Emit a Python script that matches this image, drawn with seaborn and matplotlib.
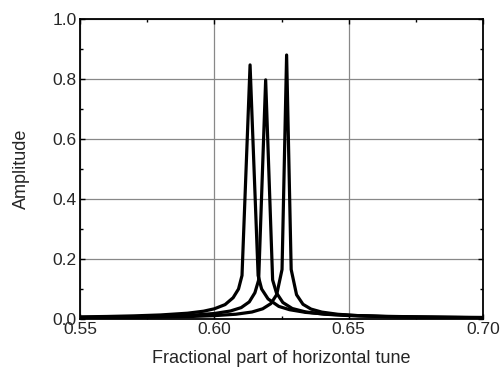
import matplotlib
matplotlib.use("Agg")
import matplotlib.pyplot as plt
from matplotlib.ticker import MultipleLocator
import seaborn as sns
import pandas as pd

# --- data ---
x1 = [0.550, 0.560, 0.570, 0.580, 0.590, 0.596, 0.600, 0.604, 0.607, 0.6090, 0.6103, 0.6133,
      0.6163, 0.6176, 0.620, 0.624, 0.628, 0.634, 0.642, 0.652, 0.662, 0.674, 0.686, 0.700]
y1 = [0.0071, 0.0084, 0.0104, 0.0135, 0.0193, 0.026, 0.034, 0.048, 0.071, 0.10, 0.145, 0.847,
      0.145, 0.10, 0.067, 0.042, 0.031, 0.022, 0.016, 0.0116, 0.0092, 0.0074, 0.0062, 0.0052]

x2 = [0.550, 0.565, 0.580, 0.592, 0.600, 0.606, 0.610, 0.613, 0.6151, 0.6165, 0.6191,
      0.6217, 0.6231, 0.6255, 0.629, 0.634, 0.641, 0.650, 0.662, 0.676, 0.700]
y2 = [0.0051, 0.0065, 0.009, 0.0129, 0.0183, 0.0267, 0.038, 0.057, 0.0875, 0.13, 0.797,
      0.13, 0.0875, 0.055, 0.035, 0.0235, 0.016, 0.0113, 0.0082, 0.0062, 0.0043]

x3 = [0.550, 0.565, 0.580, 0.592, 0.600, 0.608, 0.614, 0.618, 0.621, 0.6232, 0.6252, 0.6269,
      0.6286, 0.6306, 0.633, 0.636, 0.640, 0.646, 0.654, 0.664, 0.678, 0.700]
y3 = [0.0039, 0.0048, 0.0064, 0.0086, 0.0112, 0.0159, 0.0233, 0.034, 0.051, 0.081, 0.165, 0.88,
      0.165, 0.081, 0.049, 0.033, 0.023, 0.0157, 0.011, 0.0081, 0.0059, 0.0041]

x_ticks = [0.55, 0.60, 0.65, 0.70]
y_ticks = [0.0, 0.2, 0.4, 0.6, 0.8, 1.0]
x_label = "Fractional part of horizontal tune"
y_label = "Amplitude"

frames = []
for name, xs, ys in (("a", x1, y1), ("b", x2, y2), ("c", x3, y3)):
    frames.append(pd.DataFrame({"x": xs, "y": ys, "curve": name}))
df = pd.concat(frames, ignore_index=True)

sns.set_style("ticks")
plt.rcParams["font.family"] = ["Liberation Sans", "DejaVu Sans"]

fig = plt.figure(figsize=(5.02, 3.73), dpi=100)
ax = fig.add_axes([80 / 502, 1 - 319 / 373, 403 / 502, 300 / 373])

sns.lineplot(data=df, x="x", y="y", hue="curve", palette=["black"] * 3,
             estimator=None, sort=False, legend=False, linewidth=2.3, ax=ax, zorder=3)

ax.set_xlim(0.55, 0.70)
ax.set_ylim(0.0, 1.0)
ax.set_xticks(x_ticks)
ax.set_xticklabels([f"{v:.2f}" for v in x_ticks])
ax.set_yticks(y_ticks)
ax.set_yticklabels([f"{v:.1f}" for v in y_ticks])
ax.xaxis.set_minor_locator(MultipleLocator(0.025))
ax.yaxis.set_minor_locator(MultipleLocator(0.1))

ax.tick_params(which="both", direction="in", top=True, right=True, labelsize=12.5,
               color="black", width=1.0)
ax.tick_params(which="major", length=3.5, pad=2.5)
ax.tick_params(which="minor", length=2)

ax.grid(True, which="major", color="#888888", linewidth=0.9, zorder=0)
ax.set_axisbelow(True)
for sp in ax.spines.values():
    sp.set_visible(True)
    sp.set_linewidth(1.3)
    sp.set_color("black")

ax.set_xlabel(x_label, fontsize=13, labelpad=9)
ax.set_ylabel(y_label, fontsize=13, labelpad=16)

fig.savefig("out.png", dpi=100)
